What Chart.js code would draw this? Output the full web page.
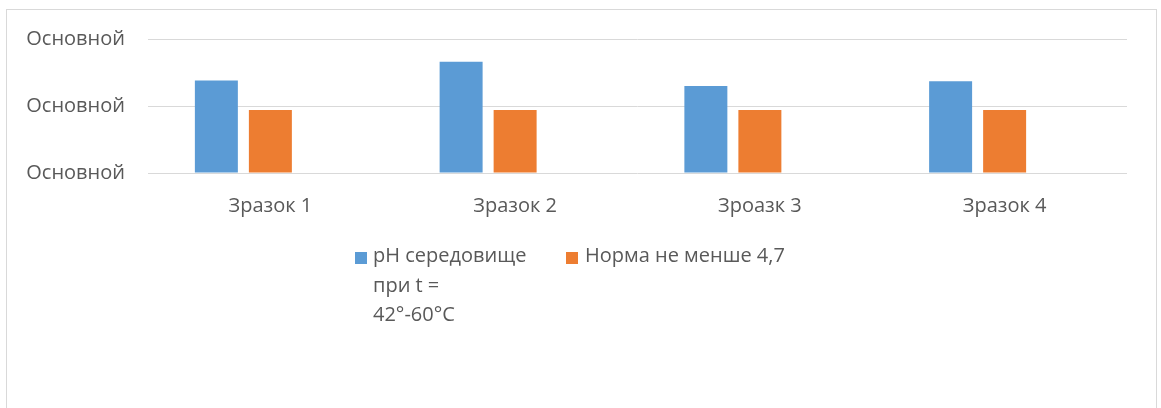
<!DOCTYPE html>
<html>
<head>
<meta charset="utf-8">
<script src="https://cdn.jsdelivr.net/npm/chart.js@4/dist/chart.umd.min.js"></script>
<style>
    body { margin: 0; background: #fff; }
    #wrap { position: relative; width: 1161px; height: 408px; overflow: hidden; }
    #frame { position: absolute; left: 6px; top: 9px; width: 1149px; height: 460px; border: 1px solid #d9d9d9; }
    #myChart { position: absolute; left: 0; top: 0; }
    .leg { position: absolute; font-family: "Open Sans", sans-serif; font-size: 20px; line-height: 29.5px; color: #595959; }
    .sw { position: absolute; width: 12px; height: 12px; }
</style>
</head>
<body>
<div id="wrap">
    <div id="frame"></div>
    <canvas id="myChart" width="1161" height="408"></canvas>
    <div class="sw" style="left:355px;top:252px;background:#5B9BD5"></div>
    <div class="leg" style="left:373px;top:240px">pH середовище<br>при t =<br>42°-60°C</div>
    <div class="sw" style="left:566px;top:252px;background:#ED7D31"></div>
    <div class="leg" style="left:585px;top:240px">Норма не менше 4,7</div>
</div>
<script>
    const categories = ['Зразок 1', 'Зразок 2', 'Зроазк 3', 'Зразок 4']
    const phValues = [6.9, 8.3, 6.5, 6.85]
    const normValues = [4.7, 4.7, 4.7, 4.7]
    // третій ряд у діаграмі порожній, але займає місце в групі
    const emptyValues = [null, null, null, null]
    const yTickLabels = ['Основной', 'Основной', 'Основной']

    const textColor = '#595959'
    const font = { family: '"Open Sans", sans-serif', size: 20 }

    const ctx = document.getElementById('myChart')
    const myChart = new Chart(ctx, {
        type: 'bar',
        data: {
            labels: categories,
            datasets: [{
                label: 'pH середовище при t = 42°-60°C',
                data: phValues,
                backgroundColor: '#5B9BD5'
            },
            {
                label: 'Норма не менше 4,7',
                data: normValues,
                backgroundColor: '#ED7D31'
            },
            {
                label: '',
                data: emptyValues,
                backgroundColor: '#A5A5A5'
            }]
        },
        options: {
            responsive: false,
            animation: false,
            categoryPercentage: 0.662,
            barPercentage: 0.796,
            layout: { padding: { top: 39, right: 34, left: 0, bottom: 0 } },
            plugins: {
                legend: { display: false },
                tooltip: { enabled: false }
            },
            scales: {
                x: {
                    grid: { display: false },
                    border: { display: false },
                    ticks: { color: textColor, font: font, padding: 13, maxRotation: 0 },
                    afterFit: (scale) => { scale.height = 235 }
                },
                y: {
                    min: 0,
                    max: 10,
                    grid: { color: '#d9d9d9', lineWidth: 1, drawTicks: false },
                    border: { display: false },
                    ticks: {
                        stepSize: 5,
                        color: textColor,
                        font: font,
                        padding: 23,
                        callback: (value, index) => yTickLabels[index]
                    },
                    afterFit: (scale) => { scale.width = 148 }
                }
            }
        }
    })
</script>
</body>
</html>
